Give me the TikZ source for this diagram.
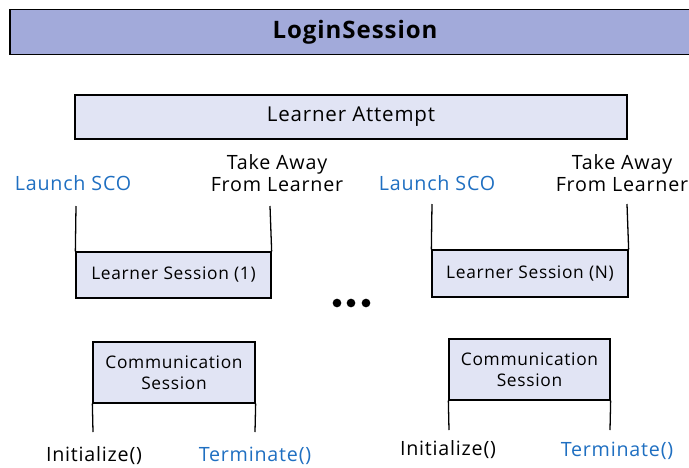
\documentclass[tikz,border=0pt]{standalone}
\usepackage{fontspec}
\setmainfont{Open Sans}[LetterSpace=4]
\definecolor{barfill}{HTML}{A2AADA}
\definecolor{boxfill}{HTML}{E1E4F4}
\definecolor{scoblue}{HTML}{1F6FC1}
\tikzset{
  sessbox/.style={draw=black, line width=1.1pt, fill=boxfill, inner sep=0pt, align=center},
  lifeline/.style={line width=1.1pt},
  calltext/.style={font=\fontsize{16.8}{18.5}\selectfont, align=center},
  bluetext/.style={calltext, text=scoblue},
}
\begin{document}
\begin{tikzpicture}[x=0.03cm,y=-0.03cm]
    \useasboundingbox (0,0) rectangle (689,467);
    % outer session bar
    \node[draw=black, line width=1.1pt, fill=barfill, minimum width=20.7cm, minimum height=1.35cm,
          font=\bfseries\fontsize{20.5}{23}\selectfont] (login) at (355,32) {LoginSession};
    % attempt bar
    \node[sessbox, minimum width=16.56cm, minimum height=1.32cm,
          font=\fontsize{17.5}{19}\selectfont] (attempt) at (351,117) {Learner Attempt};

    % first learner session
    \node[sessbox, minimum width=5.85cm, minimum height=1.38cm,
          font=\fontsize{14.8}{16}\selectfont] (ls1) at (173.5,275) {Learner Session (1)};
    \coordinate (ls1l) at (76,206);
    \coordinate (ls1r) at (270,206);
    \draw[lifeline] (ls1.north west) -- (ls1l);
    \draw[lifeline] (ls1.north east) -- (ls1r);
    \node[bluetext] (launch1) at (73,183) {Launch SCO};
    \node[calltext, inner sep=0pt] (away1) at (277,173) {Take Away\\From Learner};

    % last learner session
    \node[sessbox, minimum width=5.88cm, minimum height=1.41cm,
          font=\fontsize{14.8}{16}\selectfont] (lsn) at (530,273.5) {Learner Session (N)};
    \coordinate (lsnl) at (432,204);
    \coordinate (lsnr) at (627,204);
    \draw[lifeline] (lsn.north west) -- (lsnl);
    \draw[lifeline] (lsn.north east) -- (lsnr);
    \node[bluetext] (launchn) at (437,183) {Launch SCO};
    \node[calltext, inner sep=0pt] (awayn) at (622,173) {Take Away\\From Learner};

    % ellipsis
    \foreach \dx in {337,351,366}
        \fill (\dx,303) circle (0.13cm);

    % communication sessions
    \node[sessbox, minimum width=4.86cm, minimum height=1.83cm,
          font=\fontsize{14.8}{18}\selectfont] (cs1) at (174,372.5) {Communication\\Session};
    \coordinate (cs1l) at (93,432);
    \coordinate (cs1r) at (255,432);
    \draw[lifeline] (cs1.south west) -- (cs1l);
    \draw[lifeline] (cs1.south east) -- (cs1r);
    \node[calltext] (init1) at (94,456) {Initialize()};
    \node[bluetext] (term1) at (255,456) {Terminate()};

    \node[sessbox, minimum width=4.83cm, minimum height=1.83cm,
          font=\fontsize{14.8}{18}\selectfont] (csn) at (529.5,369.5) {Communication\\Session};
    \coordinate (csnl) at (449,430);
    \coordinate (csnr) at (610,430);
    \draw[lifeline] (csn.south west) -- (csnl);
    \draw[lifeline] (csn.south east) -- (csnr);
    \node[calltext] (initn) at (448,450) {Initialize()};
    \node[bluetext] (termn) at (617,451) {Terminate()};
\end{tikzpicture}
\end{document}
